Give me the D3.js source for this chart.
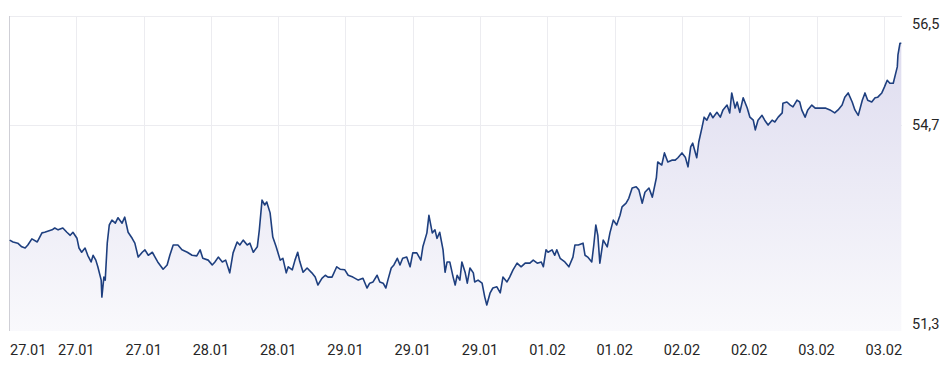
<!DOCTYPE html>
<meta charset="utf-8">
<style>
  body { margin: 0; background: #fff; }
  text { font-family: Roboto, "Noto Sans", sans-serif; }
</style>
<body>
<script src="https://d3js.org/d3.v7.min.js"></script>
<script>
  // position in session units (one unit = one grid step) and price
  var times = [0.01,0.06,0.13,0.19,0.24,0.28,0.34,0.42,0.49,0.53,0.64,0.68,0.73,0.80,0.86,0.91,0.95,
    1.01,1.04,1.08,1.13,1.17,1.22,1.25,1.29,1.32,1.37,1.38,1.41,1.43,1.46,1.49,1.53,1.58,1.62,1.68,1.72,1.77,1.83,1.87,1.92,1.98,
    2.02,2.07,2.13,2.17,2.21,2.29,2.35,2.39,2.44,2.51,2.57,2.65,2.72,2.79,2.84,2.88,2.96,
    3.02,3.06,3.11,3.17,3.22,3.28,3.33,3.39,3.43,3.48,3.54,3.58,3.63,3.69,3.72,3.76,3.80,3.83,3.88,3.92,3.97,
    4.03,4.07,4.12,4.15,4.21,4.25,4.29,4.32,4.37,4.43,4.50,4.55,4.59,4.65,4.70,4.74,4.80,4.87,4.92,4.99,
    5.04,5.11,5.19,5.26,5.32,5.36,5.41,5.47,5.51,5.56,5.60,5.63,5.68,5.72,5.77,5.81,5.85,5.91,5.96,
    6.00,6.06,6.12,6.15,6.21,6.24,6.29,6.33,6.36,6.40,6.45,6.48,6.51,6.55,6.60,6.63,6.66,6.70,6.73,6.78,6.81,6.85,6.90,6.92,6.97,
    7.03,7.07,7.10,7.15,7.19,7.25,7.30,7.34,7.40,7.44,7.49,7.55,7.61,7.67,7.74,7.79,7.85,7.91,7.94,7.98,
    8.01,8.07,8.11,8.14,8.19,8.26,8.32,8.38,8.41,8.46,8.53,8.56,8.60,8.66,8.69,8.72,8.75,8.78,8.83,8.89,8.93,8.98,
    9.03,9.08,9.11,9.17,9.21,9.26,9.32,9.36,9.41,9.45,9.51,9.56,9.62,9.64,9.70,9.74,9.79,9.85,9.90,9.94,
    10.00,10.05,10.09,10.13,10.16,10.22,10.25,10.30,10.33,10.37,10.42,10.46,10.52,10.57,10.61,10.67,10.71,10.74,10.79,10.82,10.86,10.91,10.97,
    11.01,11.06,11.09,11.13,11.19,11.23,11.28,11.34,11.38,11.43,11.49,11.50,11.56,11.61,11.65,11.71,11.75,11.78,11.83,11.87,11.93,11.98,
    12.05,12.13,12.20,12.27,12.32,12.38,12.42,12.47,12.53,12.57,12.62,12.68,12.72,12.76,12.82,12.87,12.91,12.97,
    13.01,13.05,13.09,13.14,13.20,13.21,13.24,13.26];

  var prices = [52.80,52.77,52.75,52.69,52.67,52.72,52.82,52.77,52.92,52.93,52.97,53.00,52.97,53.00,52.93,52.88,52.93,
    52.83,52.67,52.60,52.67,52.55,52.44,52.55,52.47,52.36,52.14,51.86,52.19,52.14,52.75,53.05,53.13,53.08,53.17,53.08,53.18,52.93,52.83,52.75,52.52,52.60,
    52.64,52.55,52.60,52.52,52.44,52.32,52.39,52.55,52.72,52.72,52.64,52.60,52.55,52.54,52.64,52.50,52.47,
    52.39,52.44,52.52,52.44,52.47,52.26,52.59,52.77,52.72,52.80,52.72,52.75,52.60,52.69,52.97,53.46,53.38,53.43,53.25,52.85,52.69,
    52.47,52.50,52.26,52.36,52.31,52.47,52.60,52.45,52.27,52.34,52.26,52.19,52.06,52.17,52.22,52.19,52.19,52.36,52.32,52.31,
    52.22,52.19,52.14,52.17,52.01,52.09,52.11,52.22,52.11,52.09,52.01,52.14,52.34,52.39,52.50,52.39,52.50,52.52,52.36,
    52.59,52.59,52.47,52.69,52.92,53.21,52.92,52.97,52.83,52.93,52.64,52.27,52.44,52.44,52.19,52.06,52.22,52.14,52.44,52.26,52.09,52.34,52.26,52.11,52.14,
    52.09,51.86,51.73,51.93,52.01,52.03,51.93,52.19,52.11,52.19,52.31,52.42,52.36,52.42,52.42,52.47,52.42,52.44,52.36,52.64,
    52.60,52.64,52.55,52.64,52.50,52.44,52.36,52.52,52.72,52.72,52.75,52.55,52.52,52.44,52.72,53.05,52.88,52.42,52.80,52.69,52.92,53.13,
    53.05,53.21,53.35,53.41,53.49,53.66,53.68,53.63,53.41,53.59,53.66,53.51,53.83,54.09,54.04,54.24,54.09,54.12,54.12,54.16,
    54.24,54.17,54.01,54.34,54.40,54.16,54.42,54.67,54.83,54.78,54.90,54.82,54.91,54.83,54.95,55.03,54.90,55.23,54.98,55.08,54.91,55.15,54.98,
    54.83,54.78,54.62,54.78,54.86,54.78,54.70,54.78,54.75,54.83,54.90,55.06,55.08,55.03,55.00,55.11,55.08,54.95,54.83,54.95,55.03,54.98,
    54.98,54.98,54.95,54.90,54.95,55.03,55.16,55.23,55.08,54.95,54.86,55.11,55.23,55.11,55.08,55.15,55.16,55.23,
    55.33,55.44,55.39,55.39,55.66,55.86,56.05,56.05];

  var tickLabels = ["27.01","27.01","27.01","28.01","28.01","29.01","29.01","29.01","01.02","01.02","02.02","02.02","03.02","03.02"];
  var yTicks = [51.3, 54.7, 56.5];

  var data = times.map(function(t, i) { return {t: t, v: prices[i]}; });

  var svg = d3.select("body").append("svg")
          .attr("width", 952)
          .attr("height", 377);

  var plot = {left: 9, right: 902, top: 16, bottom: 331};

  var xScale = d3.scaleLinear().domain([0, 13.27]).range([plot.left, plot.right]);
  var yScale = d3.scaleLinear().domain([51.3, 56.5]).range([plot.bottom, plot.top]);

  var fmt = function(d) { return d3.format(".1f")(d).replace(".", ","); };

  var defs = svg.append("defs");
  var grad = defs.append("linearGradient")
          .attr("id", "fillGrad")
          .attr("gradientUnits", "userSpaceOnUse")
          .attr("x1", 0).attr("x2", 0)
          .attr("y1", yScale(56.1)).attr("y2", plot.bottom);
  grad.append("stop").attr("offset", 0).attr("stop-color", "#dedcef");
  grad.append("stop").attr("offset", 1).attr("stop-color", "#f9f9fc");

  // grid
  svg.append("g").selectAll("line")
          .data(d3.range(1, 14))
          .enter().append("line")
          .attr("x1", function(d) { return Math.round(xScale(d)) + 0.5; })
          .attr("x2", function(d) { return Math.round(xScale(d)) + 0.5; })
          .attr("y1", plot.top)
          .attr("y2", plot.bottom)
          .attr("stroke", "#ececf0");

  svg.append("g").selectAll("line")
          .data([56.5, 54.7])
          .enter().append("line")
          .attr("x1", plot.left)
          .attr("x2", plot.right)
          .attr("y1", function(d) { return Math.round(yScale(d)) + 0.5; })
          .attr("y2", function(d) { return Math.round(yScale(d)) + 0.5; })
          .attr("stroke", "#ececf0");

  var area = d3.area()
          .x(function(d) { return xScale(d.t); })
          .y0(plot.bottom)
          .y1(function(d) { return yScale(d.v); });

  var line = d3.line()
          .x(function(d) { return xScale(d.t); })
          .y(function(d) { return yScale(d.v); });

  svg.append("path")
          .datum(data)
          .attr("d", area)
          .attr("fill", "url(#fillGrad)");

  svg.append("line")
          .attr("x1", plot.left + 0.5).attr("x2", plot.left + 0.5)
          .attr("y1", plot.top).attr("y2", plot.bottom)
          .attr("stroke", "#cfcfd6");

  svg.append("path")
          .datum(data)
          .attr("d", line)
          .attr("fill", "none")
          .attr("stroke", "#1e3f7f")
          .attr("stroke-width", 1.6)
          .attr("stroke-linejoin", "round");

  // x labels
  svg.append("g").selectAll("text")
          .data(tickLabels)
          .enter().append("text")
          .attr("x", function(d, i) { return i === 0 ? plot.left + 1 : xScale(i); })
          .attr("y", 355)
          .attr("text-anchor", function(d, i) { return i === 0 ? "start" : "middle"; })
          .attr("font-size", 14.5)
          .attr("fill", "#262626")
          .text(function(d) { return d; });

  // y labels on the right: top one hangs below its line, bottom one sits above
  svg.append("g").selectAll("text")
          .data(yTicks)
          .enter().append("text")
          .attr("x", 912)
          .attr("y", function(d, i) {
            if (i === 2) return yScale(d) + 13;
            if (i === 0) return yScale(d) - 2;
            return yScale(d) + 5;
          })
          .attr("font-size", 14.5)
          .attr("fill", "#262626")
          .text(fmt);
</script>
</body>
</html>
